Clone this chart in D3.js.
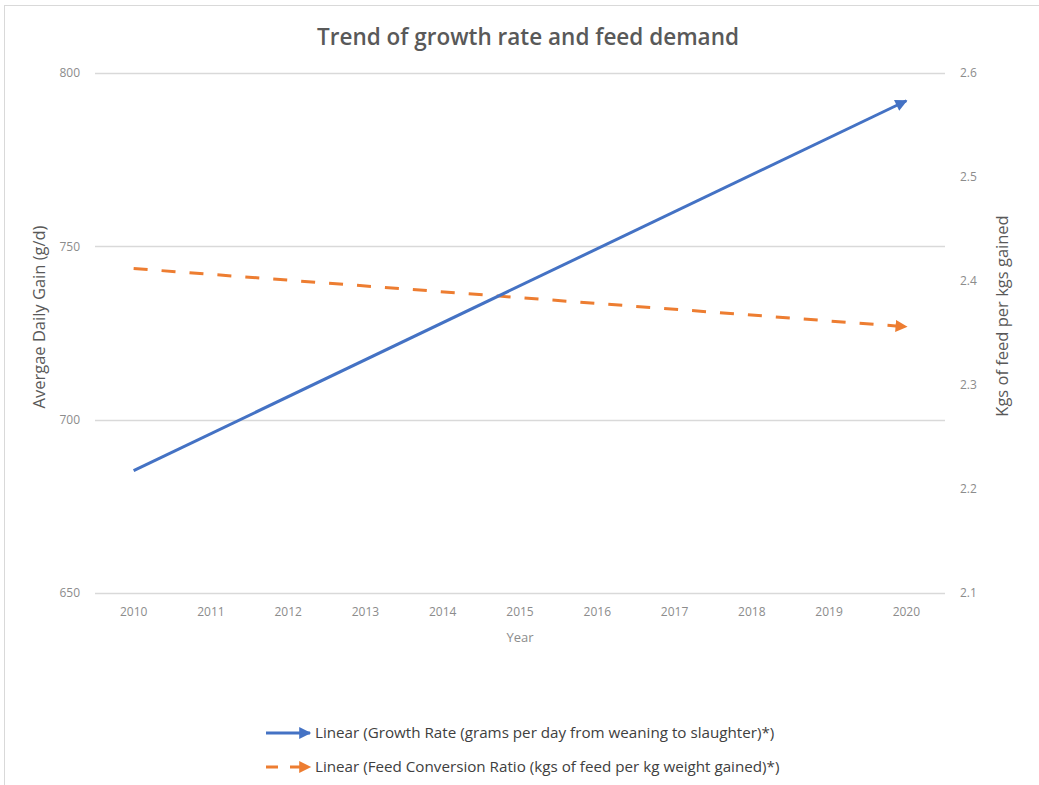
<!DOCTYPE html>
<html>
<head>
<meta charset="utf-8">
<script src="https://cdn.jsdelivr.net/npm/d3@7"></script>
<style>
  body { margin: 0; background: #fff; }
  svg { display: block; font-family: "Open Sans", "Noto Sans", sans-serif; }
</style>
</head>
<body>
<svg id="chart" width="1039" height="785"></svg>
<script>
// trendline endpoints
const years = ["2010", "2011", "2012", "2013", "2014", "2015", "2016", "2017", "2018", "2019", "2020"];
const trendYears = ["2010", "2020"];
const growthTrend = [685.3, 792];      // g/d, left axis
const feedTrend = [2.412, 2.356];      // kg feed per kg gained, right axis
const leftTicks = [650, 700, 750, 800];
const rightTicks = [2.1, 2.2, 2.3, 2.4, 2.5, 2.6];
const legendLabels = [
    "Linear (Growth Rate (grams per day from weaning to slaughter)*)",
    "Linear (Feed Conversion Ratio (kgs of feed per kg weight gained)*)"
];

const svg = d3.select('#chart');
const W = 1039, H = 785;
const m = { left: 95, right: 945, top: 73, bottom: 593 };

const blue = '#4472C4', orange = '#ED7D31';

// outer frame
svg.append('rect')
    .attr('x', 4.5).attr('y', 5.5)
    .attr('width', W + 10).attr('height', H + 10)
    .attr('fill', 'none').attr('stroke', '#d9d9d9');

// arrow markers
const defs = svg.append('defs');
[['arrBlue', blue], ['arrOrange', orange]].forEach(([id, c]) => {
    defs.append('marker')
        .attr('id', id)
        .attr('viewBox', '0 0 10 10')
        .attr('refX', 9).attr('refY', 5)
        .attr('markerWidth', 4.2).attr('markerHeight', 4)
        .attr('markerUnits', 'strokeWidth')
        .attr('orient', 'auto')
        .append('path')
        .attr('d', 'M0,0 L10,5 L0,10 Z')
        .attr('fill', c);
});

const x = d3.scaleBand().domain(years).range([m.left, m.right]);
const xc = d => x(d) + x.bandwidth() / 2;
const yL = d3.scaleLinear().domain([650, 800]).range([m.bottom, m.top]);
const yR = d3.scaleLinear().domain([2.1, 2.6]).range([m.bottom, m.top]);

// gridlines
svg.append('g')
    .selectAll('line')
    .data(leftTicks)
    .join('line')
    .attr('x1', m.left).attr('x2', m.right)
    .attr('y1', d => Math.round(yL(d)) + 0.5)
    .attr('y2', d => Math.round(yL(d)) + 0.5)
    .attr('stroke', '#d9d9d9').attr('stroke-width', 1.3);

// left axis
const leftAxis = svg.append('g')
    .attr('transform', `translate(${m.left},0)`)
    .call(d3.axisLeft(yL).tickValues(leftTicks).tickSize(0).tickPadding(15));
// right axis
const rightAxis = svg.append('g')
    .attr('transform', `translate(${m.right},0)`)
    .call(d3.axisRight(yR).tickValues(rightTicks).tickSize(0).tickPadding(15).tickFormat(d3.format('.1f')));
// bottom axis
const bottomAxis = svg.append('g')
    .attr('transform', `translate(0,${m.bottom})`)
    .call(d3.axisBottom(x).tickSize(0).tickPadding(14));

[leftAxis, rightAxis, bottomAxis].forEach(a => {
    a.select('.domain').remove();
    a.selectAll('text')
        .attr('fill', '#8c8c8c')
        .style('font-size', '12px')
        .style('font-family', '"Open Sans", sans-serif');
});

// trend lines
const growthPts = trendYears.map((yr, i) => [xc(yr), yL(growthTrend[i])]);
const feedPts = trendYears.map((yr, i) => [xc(yr), yR(feedTrend[i])]);
const line = d3.line();

svg.append('path')
    .attr('d', line(feedPts))
    .attr('fill', 'none')
    .attr('stroke', orange)
    .attr('stroke-width', 3)
    .attr('stroke-dasharray', '14,14')
    .attr('marker-end', 'url(#arrOrange)');

svg.append('path')
    .attr('d', line(growthPts))
    .attr('fill', 'none')
    .attr('stroke', blue)
    .attr('stroke-width', 3)
    .attr('marker-end', 'url(#arrBlue)');

// title
svg.append('text')
    .attr('x', 528).attr('y', 45)
    .attr('text-anchor', 'middle')
    .attr('fill', '#595959')
    .style('font-size', '22.5px')
    .style('font-weight', '600')
    .text('Trend of growth rate and feed demand');

// axis titles
svg.append('text')
    .attr('transform', 'translate(45,317) rotate(-90)')
    .attr('text-anchor', 'middle')
    .attr('fill', '#595959')
    .style('font-size', '16.5px')
    .text('Avergae Daily Gain (g/d)');

svg.append('text')
    .attr('transform', 'translate(1008,316) rotate(-90)')
    .attr('text-anchor', 'middle')
    .attr('fill', '#595959')
    .style('font-size', '16.5px')
    .text('Kgs of feed per kgs gained');

svg.append('text')
    .attr('x', 520).attr('y', 642)
    .attr('text-anchor', 'middle')
    .attr('fill', '#8c8c8c')
    .style('font-size', '13px')
    .text('Year');

// legend
const legend = svg.append('g');
const legendRows = legend.selectAll('g')
    .data(legendLabels)
    .join('g')
    .attr('transform', (d, i) => `translate(266,${733 + i * 34})`);

legendRows.append('line')
    .attr('x1', 0).attr('x2', 44)
    .attr('y1', 0).attr('y2', 0)
    .attr('stroke', (d, i) => i === 0 ? blue : orange)
    .attr('stroke-width', 3)
    .attr('stroke-dasharray', (d, i) => i === 0 ? null : '12,12')
    .attr('marker-end', (d, i) => i === 0 ? 'url(#arrBlue)' : 'url(#arrOrange)');

legendRows.append('text')
    .attr('x', 49).attr('y', 5)
    .attr('fill', '#404040')
    .style('font-size', '15.2px')
    .text(d => d);
</script>
</body>
</html>
